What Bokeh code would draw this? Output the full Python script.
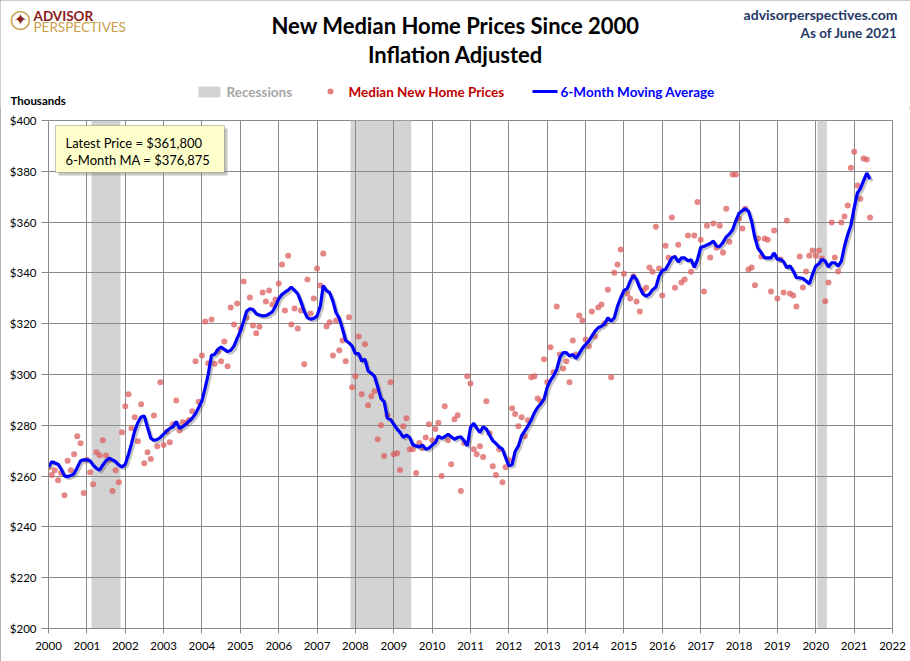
import pandas as pd
from bokeh.plotting import figure
from bokeh.layouts import column
from bokeh.models import (ColumnDataSource, FixedTicker, DatetimeTickFormatter,
                          PrintfTickFormatter, Label, BoxAnnotation, Range1d)
from bokeh.embed import file_html
from bokeh.resources import INLINE

# ---------------- data (thousands of dollars, monthly from Jan 2000) ----------------
START_MONTH = "2000-01-01"

prices = [
    263.4, 260.4, 262.3, 258.4, 261.2, 252.5, 266.0, 262.3, 268.6, 275.7, 272.9, 253.3,  # 2000
    266.4, 261.5, 256.8, 269.4, 268.2, 274.1, 268.1, 266.4, 254.1, 262.3, 257.6, 277.3,  # 2001
    287.5, 292.2, 278.8, 283.2, 273.7, 288.3, 265.1, 269.4, 266.7, 283.9, 271.8, 296.9,  # 2002
    272.2, 277.5, 273.3, 280.4, 289.8, 278.0, 281.2, 280.9, 282.1, 285.5, 305.2, 289.3,  # 2003
    307.5, 320.9, 304.4, 321.7, 304.2, 309.1, 305.2, 313.0, 303.2, 326.4, 319.7, 328.0,  # 2004
    318.0, 336.6, 322.3, 330.3, 319.3, 316.2, 318.8, 332.3, 328.7, 333.1, 327.6, 329.5,  # 2005
    335.8, 343.3, 325.2, 346.8, 319.7, 326.0, 318.1, 325.2, 304.0, 337.4, 324.0, 329.9,  # 2006
    341.7, 335.0, 347.6, 318.9, 320.6, 307.5, 321.3, 309.5, 313.4, 305.2, 322.5, 295.0,  # 2007
    299.3, 315.0, 292.2, 311.9, 287.9, 291.4, 293.4, 274.5, 280.0, 267.9, 284.0, 296.9,  # 2008
    268.6, 269.0, 262.4, 279.6, 282.8, 270.6, 270.6, 261.2, 273.0, 271.0, 275.2, 280.4,  # 2009
    274.1, 278.5, 281.0, 260.0, 287.5, 274.1, 264.7, 282.4, 284.0, 254.1, 273.0, 299.3,  # 2010
    296.5, 270.6, 268.6, 271.8, 267.5, 289.5, 276.9, 263.9, 260.4, 270.6, 257.6, 263.5,  # 2011
    266.3, 286.7, 284.4, 279.6, 283.2, 275.7, 282.0, 298.9, 299.3, 290.6, 289.5, 306.0,  # 2012
    296.9, 310.7, 300.9, 326.8, 307.9, 302.4, 305.2, 296.9, 313.4, 307.9, 323.2, 321.3,  # 2013
    313.8, 311.1, 324.8, 315.0, 326.4, 327.6, 320.1, 333.4, 298.9, 340.1, 343.3, 349.2,  # 2014
    339.7, 331.9, 329.9, 338.7, 328.7, 324.8, 333.1, 334.2, 342.1, 340.5, 358.2, 341.7,  # 2015
    331.1, 350.7, 346.0, 361.8, 334.2, 351.1, 336.2, 337.4, 354.7, 340.5, 354.7, 367.9,  # 2016
    353.1, 332.7, 358.6, 346.1, 359.4, 349.9, 358.6, 348.0, 365.3, 352.3, 378.7, 378.7,  # 2017
    361.4, 357.5, 365.3, 341.3, 342.1, 335.1, 353.5, 346.5, 353.5, 353.1, 332.7, 356.7,  # 2018
    329.9, 345.3, 332.3, 360.6, 331.9, 331.1, 326.8, 346.5, 334.3, 340.6, 346.8, 348.8,  # 2019
    346.8, 348.8, 345.7, 328.8, 336.2, 359.8, 346.1, 340.6, 359.8, 362.2, 366.5, 381.4,  # 2020
    387.7, 374.4, 369.2, 385.0, 384.6, 361.8,                                            # 2021
]

moving_avg_6m = [
    263.6, 265.6, 265.2, 264.7, 262.7, 260.1, 259.8, 260.2, 261.0, 263.4, 266.0, 266.4,
    266.4, 266.0, 264.3, 263.1, 262.3, 264.4, 266.0, 267.0, 266.4, 265.7, 264.3, 263.6,
    264.7, 268.6, 272.8, 277.8, 281.1, 283.3, 283.7, 279.1, 274.9, 274.1, 274.4, 275.2,
    276.5, 277.8, 278.8, 279.4, 281.5, 278.8, 279.4, 280.4, 281.7, 282.8, 284.6, 287.0,
    289.6, 294.8, 300.1, 307.6, 307.9, 309.9, 310.8, 309.9, 309.0, 309.5, 311.2, 314.2,
    317.1, 321.0, 324.9, 325.9, 325.6, 323.9, 323.4, 323.1, 323.2, 323.8, 324.7, 326.8,
    329.8, 331.5, 332.4, 333.2, 334.4, 333.1, 331.8, 328.6, 324.9, 322.3, 321.8, 322.1,
    323.0, 326.9, 335.0, 333.0, 332.2, 328.9, 324.3, 322.1, 317.8, 313.4, 312.5, 311.2,
    308.2, 308.2, 305.3, 306.0, 301.4, 300.5, 299.3, 295.1, 290.5, 289.3, 282.8, 282.3,
    280.4, 278.5, 277.2, 275.2, 276.2, 275.2, 272.3, 271.9, 271.5, 272.2, 270.6, 271.0,
    272.2, 273.2, 275.8, 274.9, 275.5, 276.5, 275.5, 274.5, 275.2, 275.5, 273.9, 271.9,
    279.1, 280.8, 278.9, 277.2, 279.4, 278.5, 276.2, 273.9, 272.8, 271.5, 270.6, 267.3,
    264.1, 264.5, 269.7, 271.9, 275.8, 277.8, 279.8, 282.0, 285.0, 287.0, 288.5, 290.3,
    295.0, 297.8, 299.4, 302.0, 306.6, 308.6, 308.6, 307.3, 307.9, 306.3, 308.2, 310.3,
    311.8, 313.2, 315.1, 317.1, 318.4, 319.0, 320.0, 322.3, 321.0, 322.3, 326.9, 330.2,
    333.1, 333.8, 336.7, 339.0, 337.4, 334.1, 331.7, 330.8, 331.7, 333.4, 334.4, 338.7,
    340.9, 341.4, 343.5, 345.9, 346.5, 344.3, 345.9, 345.9, 344.8, 345.2, 342.2, 345.2,
    350.0, 350.5, 351.0, 351.6, 352.5, 350.5, 350.4, 352.0, 354.2, 355.3, 357.0, 360.5,
    363.5, 364.5, 365.3, 364.3, 360.3, 353.8, 349.6, 347.9, 345.9, 345.9, 345.9, 347.9,
    345.3, 345.3, 344.4, 342.0, 342.8, 340.7, 338.1, 338.1, 337.8, 336.8, 335.7, 339.4,
    342.7, 343.6, 345.3, 344.6, 342.3, 344.0, 344.0, 342.7, 344.6, 350.5, 355.1, 358.8,
    365.6, 371.5, 373.2, 376.3, 379.3, 376.9,
]

recession_starts = ["2001-03-01", "2007-12-01", "2020-02-01"]
recession_ends = ["2001-11-01", "2009-06-01", "2020-04-01"]

year_ticks = list(range(2000, 2023))
y_ticks = list(range(200, 401, 20))
latest_price_text = "Latest Price = $361,800"
latest_ma_text = "6-Month MA = $376,875"

# ---------------- layout constants (page pixels) ----------------
W = 910
HEAD_H = 108
CHART_H = 553
BL, BR, BT, BB = 48, 18, 12, 33
FRAME_W = W - BL - BR
FRAME_H = CHART_H - BT - BB
FL = BL                      # page x of chart frame left
FB = HEAD_H + BT + FRAME_H   # page y of chart frame bottom

FONT = "Lato"
GRID = "#8a8a8a"
RED = "#dc5f5f"
GOLD = "#c9a04a"
BORDER = "#9a9a9a"

# ---------------- header figure (data coords == page pixels) ----------------
head = figure(width=W, height=HEAD_H, x_range=Range1d(0, W), y_range=Range1d(HEAD_H, 0),
              output_backend="svg", toolbar_location=None,
              x_axis_location=None, y_axis_location=None,
              min_border_left=0, min_border_right=0, min_border_top=0, min_border_bottom=0,
              background_fill_color="white", border_fill_color="white")
head.frame_align = False
head.grid.visible = False
head.outline_line_color = None


def hlabel(x, y, text, size, color="#000000", bold=False, align="left", font=FONT):
    head.add_layout(Label(x=x, y=y, text=text, text_font=font, text_font_size=size,
                          text_color=color, text_font_style="bold" if bold else "normal",
                          text_align=align, text_baseline="middle"))


def hbox(l, t, r, b, color, alpha=1.0, line=None, radius=0, line_width=1):
    head.add_layout(BoxAnnotation(left=l, right=r, top=t, bottom=b,
                                  fill_color=color, fill_alpha=alpha, line_color=line,
                                  line_width=line_width, border_radius=radius))


# titles
hlabel(455, 25, "New Median Home Prices Since 2000", "22px", bold=True, align="center")
hlabel(455, 54, "Inflation Adjusted", "22px", bold=True, align="center")
hlabel(897, 14, "advisorperspectives.com", "14px", color="#1f3864", bold=True, align="right")
hlabel(897, 32, "As of June 2021", "13.5px", color="#1f3864", bold=True, align="right")
# logo: compass ring + star
hlabel(20, 18, "\u25cb", "25px", color=GOLD, align="center", font="DejaVu Sans")
hlabel(20, 18.5, "\u2726", "16px", color="#8b1a1a", align="center", font="DejaVu Sans")
hlabel(33, 15, "ADVISOR", "13.5px", color="#8b1a1a", bold=True)
hlabel(33, 26, "PERSPECTIVES", "13.5px", color=GOLD)
# axis caption
hlabel(10, 100, "Thousands", "11.5px", bold=True)
# legend
hbox(198, 86, 220, 97, "#d3d3d3")
hlabel(226, 91, "Recessions", "13.5px", color="#a6a6a6", bold=True)
hbox(327, 88, 333, 94, RED, alpha=0.8, radius=3)
hlabel(348, 91, "Median New Home Prices", "13.5px", color="#c00000", bold=True)
hbox(532, 89.5, 557, 92.5, "#0000ff")
hlabel(560, 91, "6-Month Moving Average", "13.5px", color="#0000ff", bold=True)

# ---------------- chart figure ----------------
dates = pd.date_range(START_MONTH, periods=len(prices), freq="MS")
src = ColumnDataSource(dict(date=dates, price=prices, ma=moving_avg_6m))

x0 = pd.Timestamp(f"{year_ticks[0]}-01-01")
x1 = pd.Timestamp(f"{year_ticks[-1]}-01-01")

p = figure(width=W, height=CHART_H, x_axis_type="datetime",
           x_range=Range1d(x0, x1), y_range=Range1d(y_ticks[0], y_ticks[-1]),
           output_backend="svg", toolbar_location=None,
           min_border_left=BL, min_border_right=BR, min_border_top=BT, min_border_bottom=BB,
           background_fill_color="white", border_fill_color="white")
p.frame_align = False
p.outline_line_color = GRID

# shadow ranges (shift the average line a couple of pixels right/down)
span_ms = (x1 - x0).total_seconds() * 1000
dx = pd.Timedelta(milliseconds=span_ms / FRAME_W * 2)
dy = (y_ticks[-1] - y_ticks[0]) / FRAME_H * 2
p.extra_x_ranges = {"sh": Range1d(x0 - dx, x1 - dx)}
p.extra_y_ranges = {"sh": Range1d(y_ticks[0] + dy, y_ticks[-1] + dy)}

# recessions
for s, e in zip(recession_starts, recession_ends):
    left = (pd.Timestamp(s) - pd.Timedelta(days=15)).timestamp() * 1000
    right = (pd.Timestamp(e) + pd.Timedelta(days=15)).timestamp() * 1000
    p.add_layout(BoxAnnotation(left=left, right=right, fill_color="#d3d3d3",
                               fill_alpha=1.0, line_color=None, level="image"))

p.scatter("date", "price", source=src, size=6, fill_color=RED, fill_alpha=0.75,
          line_color=None)
p.line("date", "ma", source=src, line_color="#555555", line_alpha=0.35, line_width=3,
       x_range_name="sh", y_range_name="sh")
p.line("date", "ma", source=src, line_color="#0000ff", line_width=3.2)

# axes
p.xaxis.ticker = FixedTicker(ticks=[pd.Timestamp(f"{y}-01-01").timestamp() * 1000 for y in year_ticks])
p.xaxis.formatter = DatetimeTickFormatter(years="%Y", months="%Y", days="%Y", hours="%Y",
                                          minutes="%Y", seconds="%Y", milliseconds="%Y")
p.yaxis.ticker = FixedTicker(ticks=y_ticks)
p.yaxis.formatter = PrintfTickFormatter(format="$%d")
for ax in (p.xaxis, p.yaxis):
    ax.axis_line_color = GRID
    ax.major_tick_line_color = GRID
    ax.minor_tick_line_color = None
    ax.major_tick_in = 0
    ax.major_label_text_font = FONT
    ax.major_label_text_font_size = "11.5px"
    ax.major_label_text_color = "#000000"
p.yaxis.major_tick_out = 7
p.yaxis.major_label_standoff = 5
p.xaxis.major_tick_out = 5
p.xaxis.major_label_standoff = 8
p.grid.grid_line_color = GRID
p.grid.grid_line_width = 1
p.xgrid.ticker = p.xaxis.ticker
p.ygrid.ticker = p.yaxis.ticker


def fx(px):
    return px - FL


def fy(py):
    return FB - py


def clabel(px, py, text, size, color="#000000"):
    p.add_layout(Label(x=fx(px), y=fy(py), x_units="screen", y_units="screen", text=text,
                       text_font=FONT, text_font_size=size, text_color=color,
                       text_align="left", text_baseline="middle"))


def cbox(l, t, r, b, color, alpha=1.0, line=None):
    p.add_layout(BoxAnnotation(left=fx(l), right=fx(r), top=fy(t), bottom=fy(b),
                               left_units="screen", right_units="screen",
                               top_units="screen", bottom_units="screen",
                               fill_color=color, fill_alpha=alpha, line_color=line))


# annotation box
cbox(58, 128, 227, 175, "#7f7f7f", alpha=0.45)
cbox(55, 125, 224, 172, "#ffffcc", line="#404040")
clabel(65, 142, latest_price_text, "13px")
clabel(65, 159, latest_ma_text, "13px")

page = column(head, p, spacing=0,
              styles={"outline": f"1px solid {BORDER}", "outline-offset": "-1px"})

open("out.html", "w").write(file_html(page, INLINE))
